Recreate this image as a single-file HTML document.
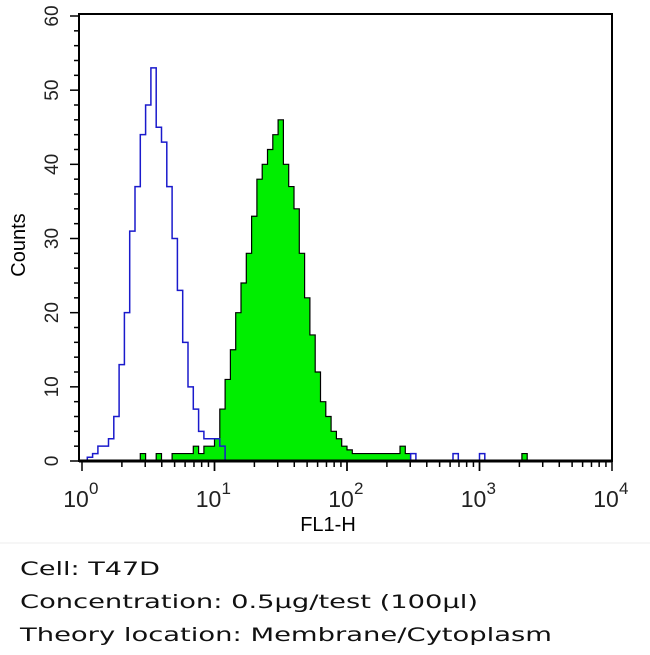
<!DOCTYPE html>
<html><head><meta charset="utf-8"><style>
body{margin:0;background:#fff;width:650px;height:650px;overflow:hidden}
svg text{font-family:"Liberation Sans",sans-serif}
</style></head><body>
<svg id="c" width="650" height="650" xmlns="http://www.w3.org/2000/svg">
<line x1="0" y1="543" x2="650" y2="543" stroke="#eee"/>
<g id="plot"></g>
<text x="-245" y="25" transform="rotate(-90)" font-size="20" text-anchor="middle">Counts</text>
<text x="328" y="531" font-size="20" text-anchor="middle">FL1-H</text>
<g font-family="'DejaVu Sans',sans-serif" font-size="19" fill="#111">
<text x="20" y="575" textLength="140" lengthAdjust="spacingAndGlyphs" style="font-family:'DejaVu Sans',sans-serif">Cell: T47D</text>
<text x="20" y="608" textLength="458" lengthAdjust="spacingAndGlyphs" style="font-family:'DejaVu Sans',sans-serif">Concentration: 0.5µg/test (100µl)</text>
<text x="20" y="641" textLength="532" lengthAdjust="spacingAndGlyphs" style="font-family:'DejaVu Sans',sans-serif">Theory location: Membrane/Cytoplasm</text>
</g>
</svg>
<script>
const binWidth = 0.04; // decades per bin
const blueCounts = [0,0.5,1,2,2,3,6,13,20,31,37,44,48,53,45,43,37,30,23,16,10,7,4,3,3,3,2,0,0,0,0,0,0,0,0,0,0,0,0,0,0,0,0,0,0,0,0,0,0,0,0,0,0,0,0,0,0,0,0,0,0,0,1,0,0,0,0,0,0,0,1,0,0,0,0,1,0,0,0,0,0,0,0,0,0,0,0,0,0,0,0,0,0,0,0,0,0,0,0,0];
const greenCounts = [0,0,0,0,0,0,0,0,0,0,0,1,0,0,1,0,0,1,1,1,1,2,1,2,2,3,7,11,15,20,24,28,33,38,40,42,44,46,40,37,34,28,22,17,12,8,6,4,3,2,1.5,1,1,1,1,1,1,1,1,1,2,1,0,0,0,0,0,0,0,0,0,0,0,0,0,0,0,0,0,0,0,0,0,1,0,0,0,0,0,0,0,0,0,0,0,0,0,0,0,0];
const yTicks = [0,10,20,30,40,50,60];
const xDecades = [0,1,2,3,4];

const NS='http://www.w3.org/2000/svg';
const L=82,R=612,T=16,B=461;
const xs=d=>L+(R-L)*d/4;
const ys=v=>B-(B-T)*v/60;
const g=document.getElementById('plot');
function mk(t,a){const e=document.createElementNS(NS,t);for(const k in a)e.setAttribute(k,a[k]);g.appendChild(e);return e;}
function stepPath(arr){let d='M'+xs(0)+','+ys(0);arr.forEach((v,i)=>{d+=' L'+xs(i*binWidth)+','+ys(v)+' L'+xs((i+1)*binWidth)+','+ys(v);});d+=' L'+xs(arr.length*binWidth)+','+ys(0)+' Z';return d;}
const gp=mk('path',{d:stepPath(greenCounts),fill:'#00ee00',stroke:'#000','stroke-width':1.2});


const bp=mk('path',{d:stepPath(blueCounts),fill:'none',stroke:'#1a1acc','stroke-width':1.5});


const fr=mk('rect',{x:L-3,y:T-2,width:R-L+3,height:B-T+2,fill:'none',stroke:'#000','stroke-width':2});


mk('line',{x1:L-3,y1:B,x2:R,y2:B,stroke:'#000','stroke-width':3});
for(let v=0;v<=60;v+=2){mk('line',{x1:L-(v%10?8:12),y1:ys(v),x2:L-3,y2:ys(v),stroke:'#000','stroke-width':1.5});}
yTicks.forEach(v=>{const t=mk('text',{x:-ys(v),y:L-24,transform:'rotate(-90)','font-size':19,'text-anchor':'middle',fill:'#222'});t.textContent=v;

});
for(let d=0;d<4;d++){for(let m=1;m<=10;m++){const x=xs(d+Math.log10(m));mk('line',{x1:x,y1:B,x2:x,y2:B+(m==1||m==10?10:6),stroke:'#000','stroke-width':1.5});}}
xDecades.forEach(d=>{const t=mk('text',{x:xs(d)-6,y:B+46,'font-size':23,'text-anchor':'middle',fill:'#222'});t.textContent='10';


const s=mk('text',{x:xs(d)+7,y:B+33,'font-size':17,fill:'#222'});s.textContent=d;

});
</script>
</body></html>
